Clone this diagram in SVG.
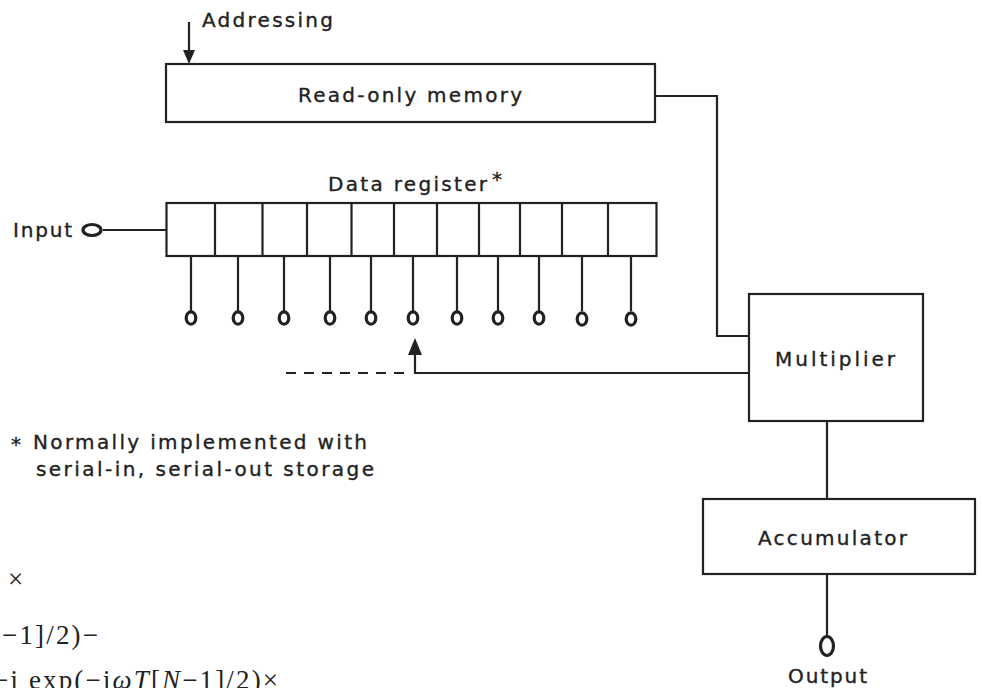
<svg xmlns="http://www.w3.org/2000/svg" width="983" height="688" viewBox="0 0 983 688">
<style>
.box{fill:none;stroke:#222;stroke-width:2.2}
.ln{fill:none;stroke:#222;stroke-width:2.2}
.term{fill:none;stroke:#222;stroke-width:3.2}
.lbl{font-family:"DejaVu Sans","Liberation Sans",sans-serif;font-size:20px;fill:#222;stroke:#222;stroke-width:0.35}
.math{font-family:"Liberation Serif","DejaVu Serif",serif;font-size:27px;fill:#222}
</style>
<rect width="983" height="688" fill="#fff"/>

<g id="connectors">
<line class="ln" x1="189" y1="22" x2="189" y2="52"/>
<path d="M183,50 L189,64 L195,50 Z" fill="#222"/>
<polyline class="ln" points="655,96 717,96 717,336 749,336"/>
<line class="ln" x1="103" y1="230" x2="166.5" y2="230"/>
<polyline class="ln" points="749,373 415,373 415,352"/>
<path d="M408,355 L415,338 L422,355 Z" fill="#222"/>
<line class="ln" x1="286" y1="373" x2="410" y2="373" stroke-dasharray="10 8"/>
<line class="ln" x1="827" y1="421" x2="827" y2="499"/>
<line class="ln" x1="827" y1="574" x2="827" y2="636"/>
</g>

<g id="addressing">
<text class="lbl" x="202" y="27" textLength="131" lengthAdjust="spacing">Addressing</text>
</g>

<g id="rom">
<rect class="box" x="166" y="64" width="489" height="58"/>
<text class="lbl" x="298" y="102" textLength="224" lengthAdjust="spacing">Read-only memory</text>
</g>

<g id="input">
<text class="lbl" x="13" y="237" textLength="59" lengthAdjust="spacing">Input</text>
<ellipse class="term" cx="92" cy="230" rx="9" ry="5.5"/>
</g>

<g id="data-register">
<text class="lbl" x="328" y="191" textLength="159" lengthAdjust="spacing">Data register</text>
<text class="lbl" x="492" y="186" font-size="26">*</text>
<rect class="box" x="166.5" y="203" width="490" height="53"/>
<path class="ln" d="M215,203V256M262.5,203V256M307,203V256M351.5,203V256M394,203V256M437,203V256M479,203V256M520,203V256M562,203V256M608,203V256"/>
<path class="ln" d="M191,256V311M238,256V311M284,256V311M330,256V311M371,256V311M413,256V311M457,256V311M498,256V311M539,256V311M582,256V311M631,256V311"/>
<g class="term">
<ellipse cx="191" cy="318" rx="4.8" ry="6.2"/>
<ellipse cx="238" cy="318" rx="4.8" ry="6.2"/>
<ellipse cx="284" cy="318" rx="4.8" ry="6.2"/>
<ellipse cx="330" cy="318" rx="4.8" ry="6.2"/>
<ellipse cx="371" cy="318" rx="4.8" ry="6.2"/>
<ellipse cx="413" cy="318" rx="4.8" ry="6.2"/>
<ellipse cx="457" cy="318" rx="4.8" ry="6.2"/>
<ellipse cx="498" cy="318" rx="4.8" ry="6.2"/>
<ellipse cx="539" cy="318" rx="4.8" ry="6.2"/>
<ellipse cx="582" cy="319" rx="4.8" ry="6.2"/>
<ellipse cx="631" cy="319" rx="4.8" ry="6.2"/>
</g>
</g>

<g id="multiplier">
<rect class="box" x="749" y="294" width="174" height="127"/>
<text class="lbl" x="775" y="366" textLength="120" lengthAdjust="spacing">Multiplier</text>
</g>

<g id="accumulator">
<rect class="box" x="703" y="499" width="272" height="75"/>
<text class="lbl" x="758" y="545" textLength="149" lengthAdjust="spacing">Accumulator</text>
</g>

<g id="output">
<ellipse class="term" cx="827" cy="646" rx="6.5" ry="9.5"/>
<text class="lbl" x="788" y="683" textLength="79" lengthAdjust="spacing">Output</text>
</g>

<g id="footnote">
<text class="lbl" x="11" y="451" font-size="28">*</text>
<text class="lbl" x="33" y="449" textLength="334" lengthAdjust="spacing">Normally implemented with</text>
<text class="lbl" x="36" y="476" textLength="338" lengthAdjust="spacing">serial-in, serial-out storage</text>
</g>

<g id="formula">
<text class="math" x="8" y="588">×</text>
<text class="math" x="2" y="644" textLength="96" lengthAdjust="spacing">−1]/2)−</text>
<text class="math" x="-7" y="689" textLength="285" lengthAdjust="spacing">−j exp(−j<tspan font-style="italic">ωT</tspan>[<tspan font-style="italic">N</tspan>−1]/2)×</text>
</g>
</svg>
